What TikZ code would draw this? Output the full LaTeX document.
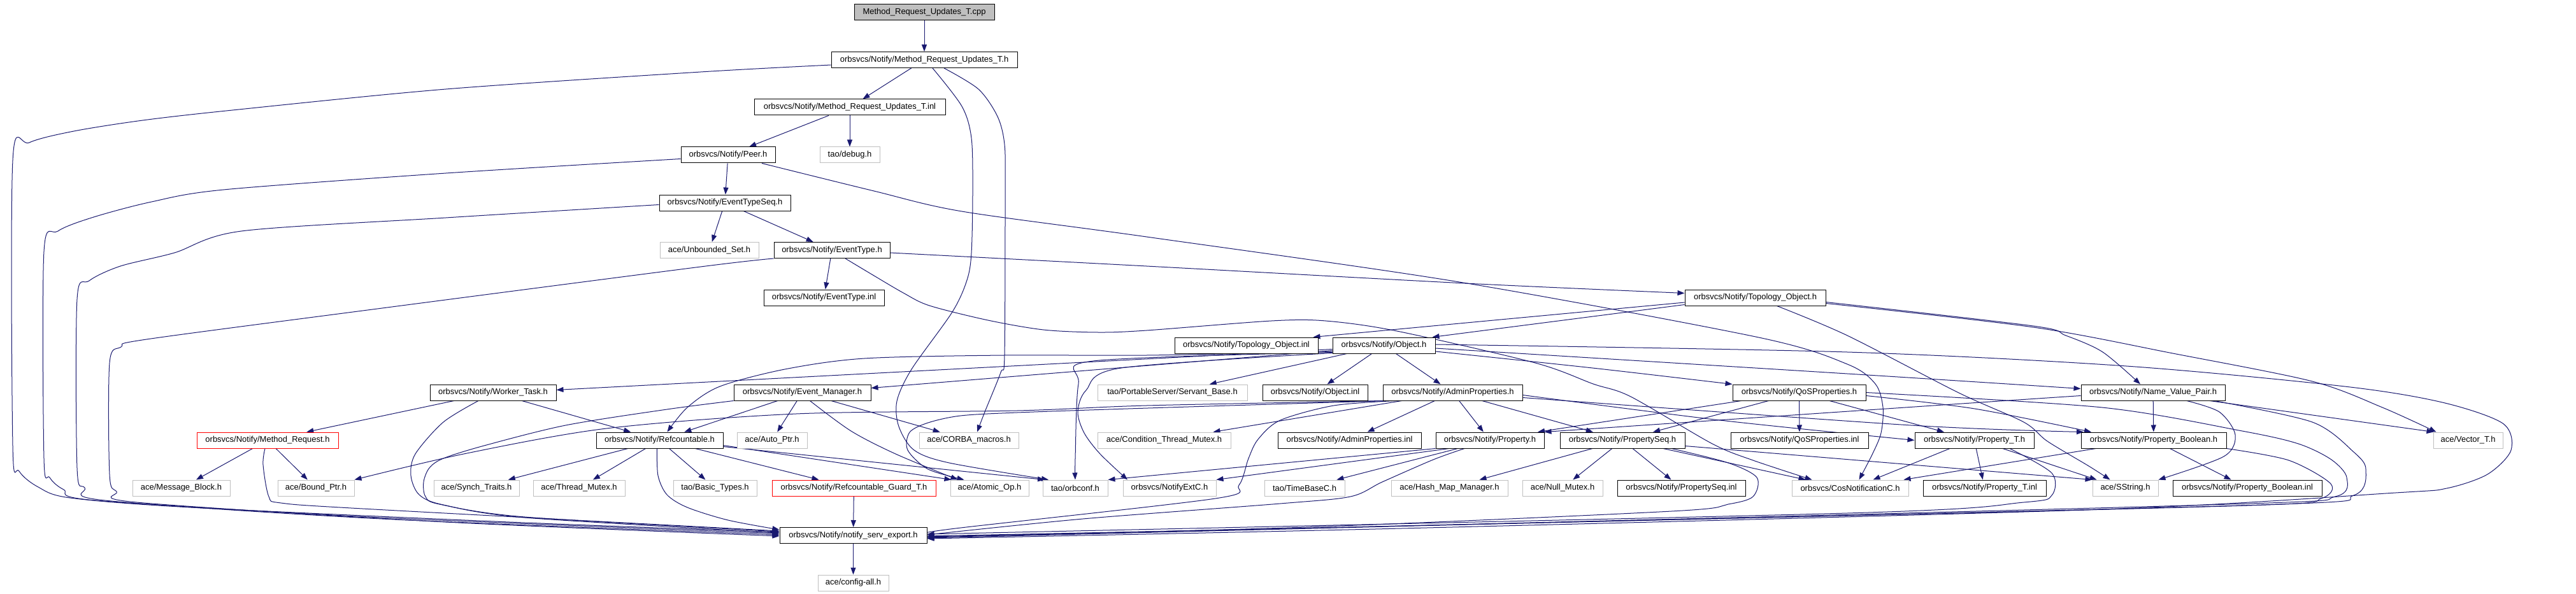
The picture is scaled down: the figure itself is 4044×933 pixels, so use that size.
\documentclass[tikz,border=0pt]{standalone}
\usepackage{fontspec}
\setmainfont{Liberation Sans}
\usetikzlibrary{arrows.meta}
\definecolor{edgec}{HTML}{191970}
\definecolor{graybd}{HTML}{BFBFBF}
\definecolor{cppfill}{HTML}{BFBFBF}
\pgfdeclarelayer{bgl}
\pgfdeclarelayer{edgel}
\pgfsetlayers{bgl,edgel,main}
\newcommand\fsz{\fontsize{13}{15}\selectfont}
\tikzset{
  nbox/.style={draw=black, line width=1pt, fill=white, minimum height=25pt, inner sep=0pt, font=\fsz, text=black},
  gnbox/.style={nbox, draw=graybd},
  rnbox/.style={nbox, draw=red},
  edg/.style={draw=edgec, line width=1pt, -{Triangle[length=11pt,width=8pt]}},
}
\begin{document}
\begin{tikzpicture}[x=1pt,y=-1pt]
\begin{pgfonlayer}{bgl}
\fill[white] (0,0) rectangle (4044,933);
\end{pgfonlayer}
\useasboundingbox (0,0) rectangle (4044,933);
% row 0-6
\node[nbox,fill=cppfill,minimum width=220] (cpp) at (1451,19.5) {Method\_Request\_Updates\_T.cpp};
\node[nbox,minimum width=292] (mruh) at (1451,94) {orbsvcs/Notify/Method\_Request\_Updates\_T.h};
\node[nbox,minimum width=300] (mruinl) at (1334,168.5) {orbsvcs/Notify/Method\_Request\_Updates\_T.inl};
\node[nbox,minimum width=148] (peer) at (1143,243.5) {orbsvcs/Notify/Peer.h};
\node[gnbox,minimum width=94] (debug) at (1334,243.5) {tao/debug.h};
\node[nbox,minimum width=206] (etseq) at (1138,318.5) {orbsvcs/Notify/EventTypeSeq.h};
\node[gnbox,minimum width=155] (unbset) at (1113.5,393) {ace/Unbounded\_Set.h};
\node[nbox,minimum width=182] (evtype) at (1306,393) {orbsvcs/Notify/EventType.h};
\node[nbox,minimum width=189] (etinl) at (1293.5,467.5) {orbsvcs/Notify/EventType.inl};
\node[nbox,minimum width=221] (topo) at (2755.5,467.5) {orbsvcs/Notify/Topology\_Object.h};
% row 7
\node[nbox,minimum width=225] (topoinl) at (1956.5,542.5) {orbsvcs/Notify/Topology\_Object.inl};
\node[nbox,minimum width=161] (object) at (2172.5,542.5) {orbsvcs/Notify/Object.h};
% row 8
\node[nbox,minimum width=198] (worker) at (774,616.5) {orbsvcs/Notify/Worker\_Task.h};
\node[nbox,minimum width=215] (evmgr) at (1259.5,616.5) {orbsvcs/Notify/Event\_Manager.h};
\node[gnbox,minimum width=235] (servant) at (1840.5,616.5) {tao/PortableServer/Servant\_Base.h};
\node[nbox,minimum width=165] (objinl) at (2064.5,616.5) {orbsvcs/Notify/Object.inl};
\node[nbox,minimum width=219] (adminp) at (2280.5,616.5) {orbsvcs/Notify/AdminProperties.h};
\node[nbox,minimum width=209] (qosp) at (2824.5,616.5) {orbsvcs/Notify/QoSProperties.h};
\node[nbox,minimum width=226] (nvp) at (3380,616.5) {orbsvcs/Notify/Name\_Value\_Pair.h};
% row 9
\node[rnbox,minimum width=222] (methreq) at (420,691.5) {orbsvcs/Notify/Method\_Request.h};
\node[nbox,minimum width=199] (refc) at (1035.5,691.5) {orbsvcs/Notify/Refcountable.h};
\node[gnbox,minimum width=110] (autoptr) at (1212,691.5) {ace/Auto\_Ptr.h};
\node[gnbox,minimum width=156] (corba) at (1521,691.5) {ace/CORBA\_macros.h};
\node[gnbox,minimum width=209] (condmutex) at (1827.5,691.5) {ace/Condition\_Thread\_Mutex.h};
\node[nbox,minimum width=225] (admininl) at (2118.5,691.5) {orbsvcs/Notify/AdminProperties.inl};
\node[nbox,minimum width=170] (property) at (2339,691.5) {orbsvcs/Notify/Property.h};
\node[nbox,minimum width=196] (propseq) at (2547,691.5) {orbsvcs/Notify/PropertySeq.h};
\node[nbox,minimum width=216] (qosinl) at (2825,691.5) {orbsvcs/Notify/QoSProperties.inl};
\node[nbox,minimum width=187] (propT) at (3099.5,691.5) {orbsvcs/Notify/Property\_T.h};
\node[nbox,minimum width=228] (propbool) at (3381,691.5) {orbsvcs/Notify/Property\_Boolean.h};
\node[gnbox,minimum width=109] (vector) at (3874.5,691.5) {ace/Vector\_T.h};
% row 10
\node[gnbox,minimum width=153] (msgblock) at (284.5,766.5) {ace/Message\_Block.h};
\node[gnbox,minimum width=120] (boundptr) at (496,766.5) {ace/Bound\_Ptr.h};
\node[gnbox,minimum width=134] (synch) at (748,766.5) {ace/Synch\_Traits.h};
\node[gnbox,minimum width=144] (thmutex) at (909,766.5) {ace/Thread\_Mutex.h};
\node[gnbox,minimum width=131] (basictypes) at (1122.5,766.5) {tao/Basic\_Types.h};
\node[rnbox,minimum width=257] (guard) at (1340.5,766.5) {orbsvcs/Notify/Refcountable\_Guard\_T.h};
\node[gnbox,minimum width=123] (atomic) at (1553.5,766.5) {ace/Atomic\_Op.h};
\node[gnbox,minimum width=102] (orbconf) at (1688,766.5) {tao/orbconf.h};
\node[gnbox,minimum width=146] (notifyext) at (1836,766.5) {orbsvcs/NotifyExtC.h};
\node[gnbox,minimum width=126] (timebase) at (2048,766.5) {tao/TimeBaseC.h};
\node[gnbox,minimum width=183] (hashmap) at (2275.5,766.5) {ace/Hash\_Map\_Manager.h};
\node[gnbox,minimum width=126] (nullmutex) at (2453,766.5) {ace/Null\_Mutex.h};
\node[nbox,minimum width=201] (propseqinl) at (2639.5,766.5) {orbsvcs/Notify/PropertySeq.inl};
\node[gnbox,minimum width=183] (cosnot) at (2904.5,766.5) {orbsvcs/CosNotificationC.h};
\node[nbox,minimum width=193] (propTinl) at (3115.5,766.5) {orbsvcs/Notify/Property\_T.inl};
\node[gnbox,minimum width=103] (sstring) at (3336.5,766.5) {ace/SString.h};
\node[nbox,minimum width=234] (propboolinl) at (3528,766.5) {orbsvcs/Notify/Property\_Boolean.inl};
% row 11-12
\node[nbox,minimum width=231] (notify) at (1339.5,841) {orbsvcs/Notify/notify\_serv\_export.h};
\node[gnbox,minimum width=111] (config) at (1339.5,915.5) {ace/config-all.h};

\begin{pgfonlayer}{edgel}
% top chain
\draw[edg] (cpp) -- (mruh);
\draw[edg] (mruh) -- (mruinl);
\draw[edg] plot[smooth,tension=.5] coordinates {([yshift=-8pt]mruh.west) (1100,113) (700,140) (365,173) (224,189) (116,206) (46,224) (20,252) (20,700) (30,740) (60,765) (110,782) (300,797) (800,820) ([yshift=5pt]notify.west)};
\draw[edg] plot[smooth,tension=.5] coordinates {([xshift=13pt]mruh.south) (1510,167) (1525,217) (1527,300) (1525,397) (1518,440) (1495,490) (1431,580) (1408,630) (1411,670) (1435,707) (1490,727) ([xshift=-42pt]orbconf.north)};
\draw[edg] plot[smooth,tension=.5] coordinates {([xshift=31pt]mruh.south) (1536,140) (1566,183) (1577,227) (1578,300) (1577,557) (1571,585) (1546,647) ([xshift=13pt]corba.north)};
\draw[edg] (mruinl) -- (peer);
\draw[edg] (mruinl) -- (debug);
\draw[edg] (peer) -- (etseq);
\draw[edg] plot[smooth,tension=.5] coordinates {([yshift=-6pt]peer.west) (700,272) (351,298) (238,317) (147,341) (91,363) (69,395) (69,720) (78,750) (100,769) (150,786) (600,813) ([yshift=3pt]notify.west)};
\draw[edg] plot[smooth,tension=.5] coordinates {([xshift=53pt]peer.south) (1372,300) (1510,332) (1800,372) (2291,443) (2761,530) (2900,572) (2944,603) (2956,640) (2953,680) (2940,712) ([xshift=14pt]cosnot.north)};
\draw[edg] (etseq) -- (unbset);
\draw[edg] (etseq) -- (evtype);
\draw[edg] plot[smooth,tension=.5] coordinates {([yshift=-3pt]etseq.west) (700,342) (379,363) (274,397) (189,418) (140,441) (121,470) (121,735) (133,766) (165,786) (600,815) ([yshift=1pt]notify.west)};
\draw[edg] (evtype) -- (etinl);
\draw[edg] plot[smooth,tension=.5] coordinates {(evtype.south west) (1100,419) (600,484) (230,533) (190,545) (172,570) (172,745) (183,772) (215,789) (700,820) ([yshift=-1pt]notify.west)};
\draw[edg] plot[smooth,tension=.5] coordinates {([yshift=-4pt]evtype.east) (1800,418) (2300,445) ([yshift=7pt]topo.west)};
\draw[edg] plot[smooth,tension=.5] coordinates {([xshift=21pt]evtype.south) (1367,430) (1418,460) (1459,480) (1551,503) (1638,518) (1724,522) (1800,519) (1996,504) (2081,504) (2193,520) (2410,570) (2501,603) (2560,623) (2688,697) (2752,723) ([xshift=-60pt]cosnot.north)};
% topology object
\draw[edg] ([yshift=-7.5pt]topo.west) -- ([xshift=105pt]topoinl.north);
\draw[edg] ([yshift=-11pt]topo.west) -- ([xshift=76pt]object.north);
\draw[edg] plot[smooth,tension=.5] coordinates {([xshift=34pt]topo.south) (2900,527) (3075,617) (3177,663) (3214,693) (3279,732) ([xshift=-24pt]sstring.north)};
\draw[edg] plot[smooth,tension=.5] coordinates {([yshift=-7pt]topo.east) (3192,512) (3243,527) (3301,553) ([xshift=-20pt]nvp.north)};
\draw[edg] plot[smooth,tension=.5] coordinates {([yshift=-9pt]topo.east) (3192,514) (3411,555) (3630,599) (3740,640) ([xshift=-50pt]vector.north)};
% object
\draw[edg] ([yshift=-6pt]object.west) -- ([yshift=4pt]worker.east);
\draw[edg] ([yshift=-8pt]object.west) -- ([yshift=7pt]evmgr.east);
\draw[edg] plot[smooth,tension=.5] coordinates {([yshift=-10pt]object.west) (1800,558) (1576,558) (1357,563) (1232,580) (1130,607) (1079,640) ([xshift=12pt]refc.north)};
\draw[edg] (object) -- (servant);
\draw[edg] (object) -- (objinl);
\draw[edg] (object) -- (adminp);
\draw[edg] plot[smooth,tension=.5] coordinates {([yshift=-9.5pt]object.east) (2500,578) (qosp.north west)};
\draw[edg] plot[smooth,tension=.5] coordinates {([yshift=-4.5pt]object.east) (2900,587) ([yshift=6pt]nvp.west)};
\draw[edg] plot[smooth,tension=.5] coordinates {([yshift=1.5pt]object.east) (2900,553) (3338,575) (3681,607) (3834,632) (3929,665) (3942,707) (3905,745) (3841,767) (3761,774) (3300,800) (2200,830) ([yshift=-5pt]notify.east)};
\draw[edg] plot[smooth,tension=.5] coordinates {([yshift=-11pt]object.west) (1716,567) (1693,603) (1688,720) (orbconf.north)};
\draw[edg] plot[smooth,tension=.5] coordinates {([yshift=-12pt]object.west) (1760,578) (1705,613) (1692,647) (1702,680) (1727,713) ([xshift=-66pt]notifyext.north)};
% worker task
\draw[edg] (worker) -- (methreq);
\draw[edg] (worker) -- (refc);
\draw[edg] plot[smooth,tension=.5] coordinates {([xshift=-23pt]worker.south) (696,663) (652,713) (645,747) (658,777) (696,793) (824,813) ([yshift=4pt]notify.west)};
% method request
\draw[edg] (methreq) -- (msgblock);
\draw[edg] (methreq) -- (boundptr);
\draw[edg] plot[smooth,tension=.5] coordinates {([xshift=-4pt]methreq.south) (413,730) (422,780) (441,790) (569,799) ([yshift=7pt]notify.west)};
% refcountable
\draw[edg] (refc) -- (synch);
\draw[edg] (refc) -- (thmutex);
\draw[edg] (refc) -- (basictypes);
\draw[edg] ([xshift=56pt]refc.south) -- ([xshift=-55pt]guard.north);
\draw[edg] ([yshift=-8pt]refc.east) -- ([xshift=-60pt]atomic.north);
\draw[edg] ([yshift=-10pt]refc.east) -- ([xshift=-48pt]orbconf.north);
\draw[edg] plot[smooth,tension=.5] coordinates {([xshift=-4pt]refc.south) (1033,747) (1047,777) (1079,797) (1143,817) ([yshift=9pt]notify.west)};
% event manager
\draw[edg] (evmgr) -- (refc);
\draw[edg] (evmgr) -- (autoptr);
\draw[edg] (evmgr) -- (corba);
\draw[edg] plot[smooth,tension=.5] coordinates {([xshift=12pt]evmgr.south) (1336,677) (1406,713) ([xshift=-50pt]atomic.north)};
\draw[edg] plot[smooth,tension=.5] coordinates {(evmgr.south west) (1047,643) (888,668) (760,700) (696,720) (674,735) (665,757) (668,780) (690,792) (824,812) ([yshift=6pt]notify.west)};
% admin properties
\draw[edg] (adminp) -- (admininl);
\draw[edg] (adminp) -- (property);
\draw[edg] (adminp) -- (propseq);
\draw[edg] ([xshift=-80pt]adminp.south) -- ([xshift=77pt]condmutex.north);
\draw[edg] plot[smooth,tension=.5] coordinates {(adminp.south west) (1800,637) (1597,645) (1250,650) (952,673) (728,713) (boundptr.north east)};
\draw[edg] plot[smooth,tension=.5] coordinates {([xshift=5pt]adminp.south west) (1802,641) (1597,648) (1508,653) (1457,664) (1428,679) (1425,707) (1457,737) ([xshift=-40pt]atomic.north)};
\draw[edg] plot[smooth,tension=.5] coordinates {([xshift=-90pt]adminp.south) (2094,637) (2010,660) (1975,690) (1960,720) (1945,762) (1908,783) (1500,830) ([yshift=3pt]notify.east)};
\draw[edg] plot[smooth,tension=.5] coordinates {([yshift=-4pt]adminp.east) (2700,660) (propT.west)};
\draw[edg] plot[smooth,tension=.5] coordinates {([yshift=-8pt]adminp.east) (3000,668) ([xshift=-110pt]propbool.north)};
% property
\draw[edg] (property) -- (timebase);
\draw[edg] (property.south west) -- (orbconf.north east);
\draw[edg] ([xshift=-64pt]property.south) -- (notifyext.north east);
\draw[edg] plot[smooth,tension=.5] coordinates {([xshift=-40pt]property.south) (2250,722) (2170,757) (2120,780) (2010,791) (1700,815) ([yshift=1pt]notify.east)};
% property seq
\draw[edg] (propseq) -- (hashmap);
\draw[edg] (propseq) -- (nullmutex);
\draw[edg] (propseq) -- (propseqinl);
\draw[edg] ([xshift=64pt]propseq.south) -- ([xshift=-70pt]cosnot.north);
\draw[edg] ([yshift=-9pt]propseq.east) -- (sstring.north west);
\draw[edg] plot[smooth,tension=.5] coordinates {([xshift=77pt]propseq.south) (2713,727) (2758,750) (2752,780) (2713,792) (2624,803) (2050,828) ([yshift=-3pt]notify.east)};
% qos properties
\draw[edg] ([xshift=-91pt]qosp.south) -- ([xshift=75pt]property.north);
\draw[edg] (qosp) -- (propseq);
\draw[edg] (qosp) -- (qosinl);
\draw[edg] (qosp) -- (propT);
\draw[edg] plot[smooth,tension=.5] coordinates {([yshift=-5pt]qosp.east) (3100,642) ([xshift=-98pt]propbool.north)};
\draw[edg] plot[smooth,tension=.5] coordinates {(qosp.east) (3300,640) (3520,677) (3608,697) (3660,722) (3684,750) (3666,780) (3500,792) (2200,826) ([yshift=-1pt]notify.east)};
% name value pair
\draw[edg] (nvp) -- (propbool);
\draw[edg] ([xshift=89pt]nvp.south) -- ([xshift=-54pt]vector.north);
\draw[edg] plot[smooth,tension=.5] coordinates {([xshift=53pt]nvp.south) (3484,647) (3509,683) (3491,717) (sstring.north east)};
\draw[edg] plot[smooth,tension=.5] coordinates {([yshift=-5pt]nvp.west) (3050,636) (property.north east)};
\draw[edg] plot[smooth,tension=.5] coordinates {([xshift=96pt]nvp.south) (3630,663) (3695,710) (3714,737) (3695,778) (3550,793) (2300,824) ([yshift=-4pt]notify.east)};
% property_T
\draw[edg] ([xshift=-38.5pt]propT.south) -- ([xshift=36pt]cosnot.north);
\draw[edg] (propT) -- (propTinl);
\draw[edg] ([xshift=44.5pt]propT.south) -- ([xshift=-45pt]sstring.north);
\draw[edg] plot[smooth,tension=.5] coordinates {([xshift=55.5pt]propT.south) (3221,743) (3221,778) (3177,789) (2900,806) ([yshift=2pt]notify.east)};
% property_boolean
\draw[edg] ([xshift=-91pt]propbool.south) -- ([xshift=84pt]cosnot.north);
\draw[edg] (propbool) -- (propboolinl);
\draw[edg] plot[smooth,tension=.5] coordinates {(propbool.south east) (3593,723) (3659,760) (3644,783) (3557,793) (2900,810) ([yshift=-2pt]notify.east)};
% bottom
\draw[edg] (guard) -- (notify);
\draw[edg] (notify) -- (config);
\end{pgfonlayer}
\end{tikzpicture}
\end{document}
